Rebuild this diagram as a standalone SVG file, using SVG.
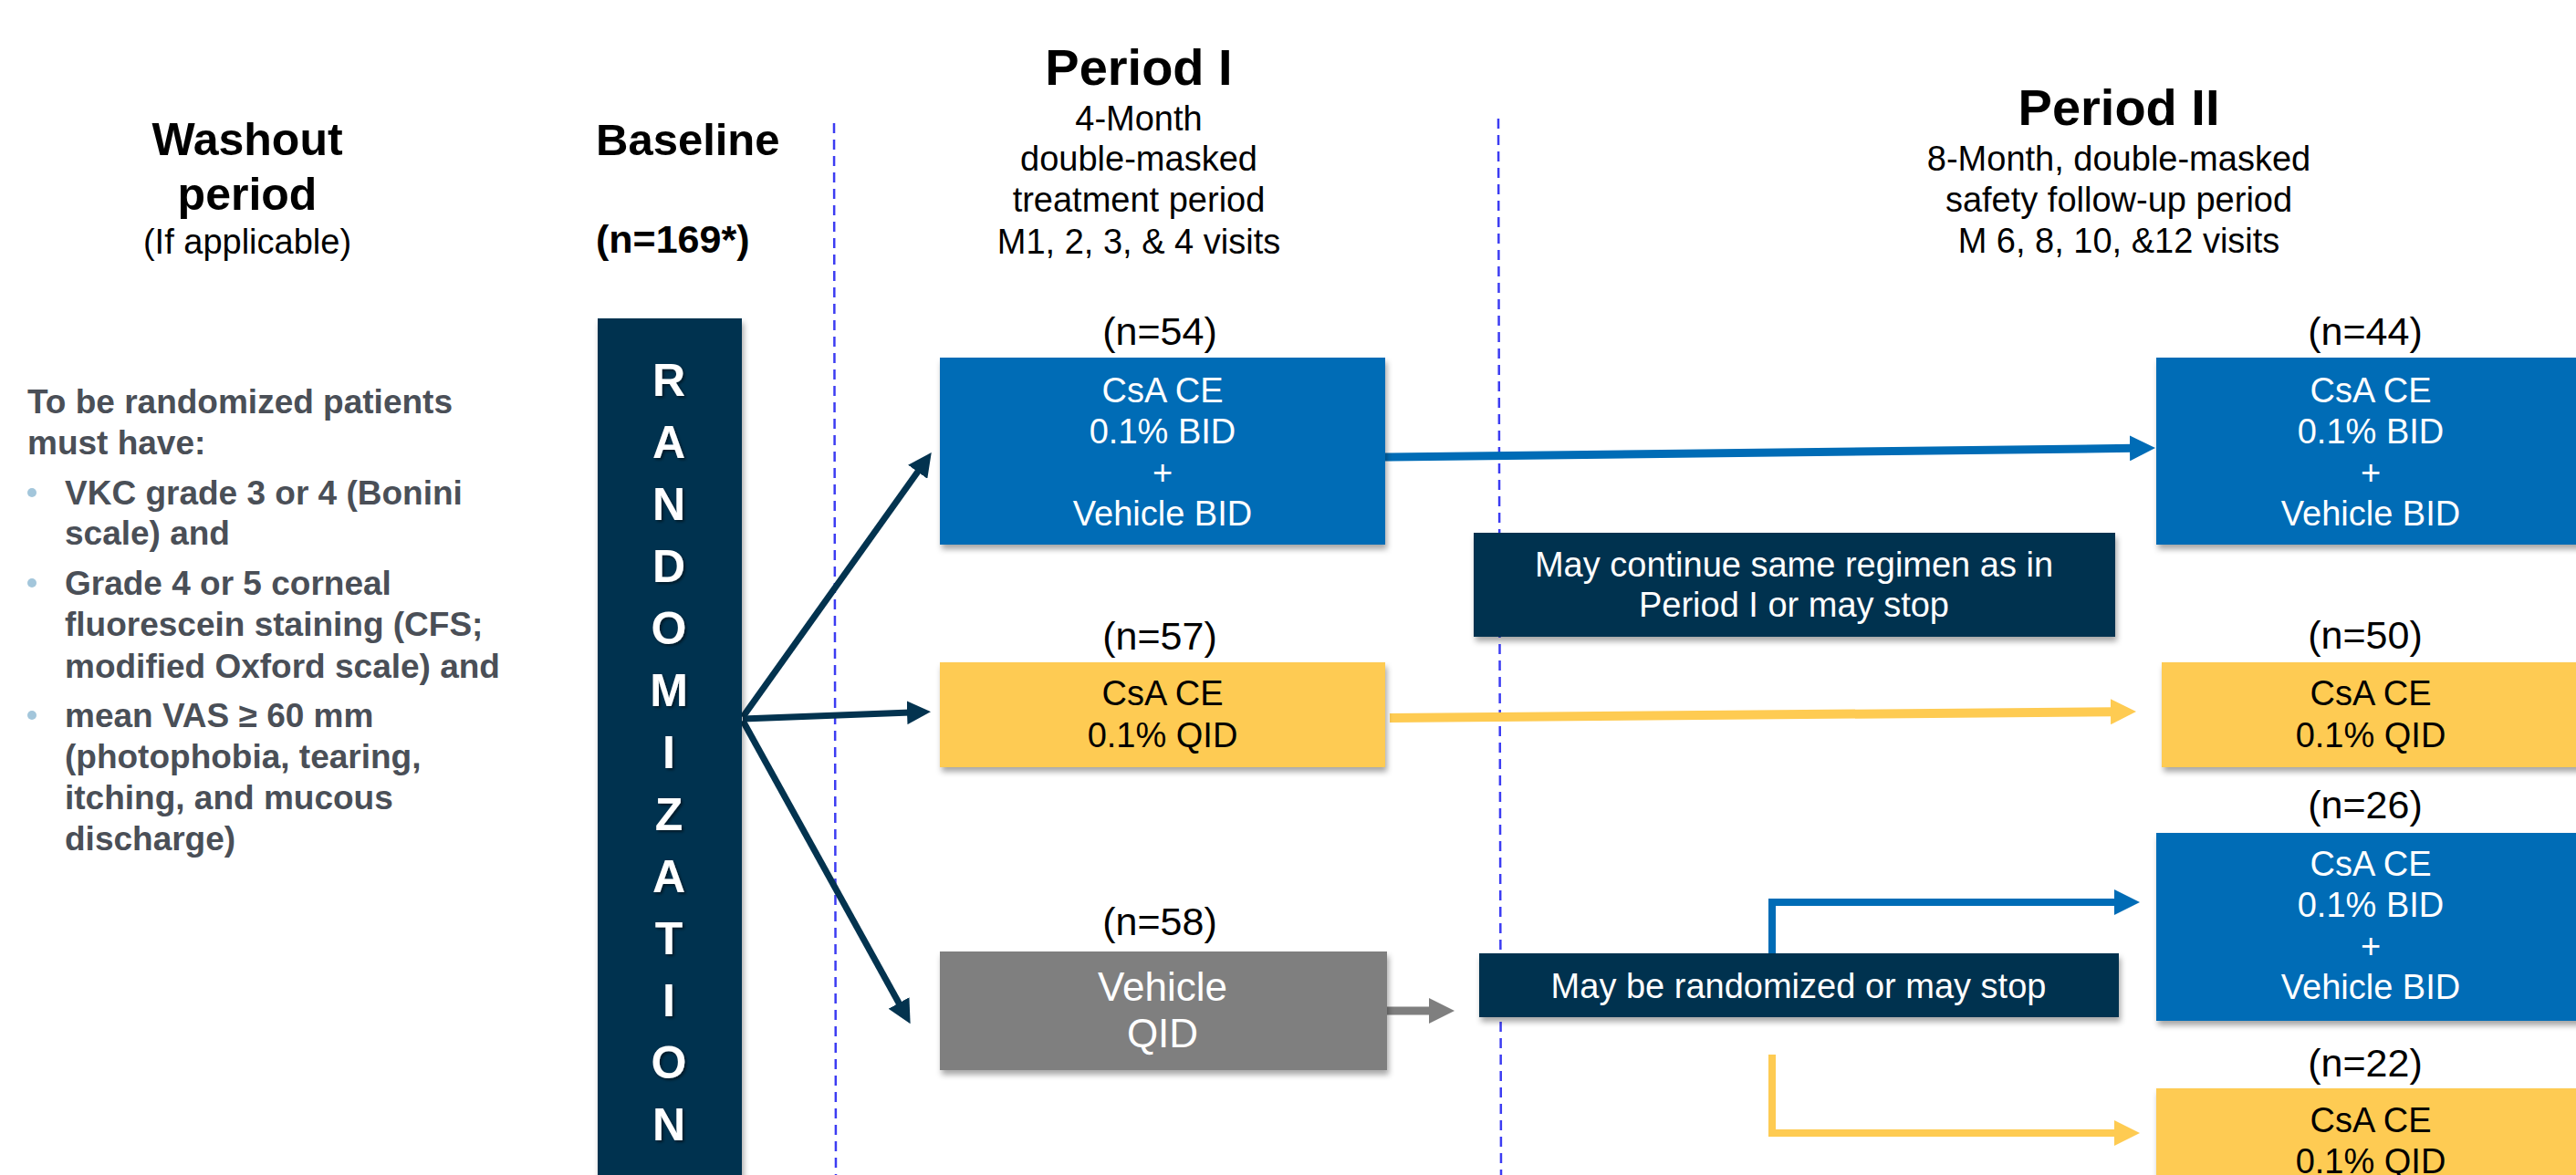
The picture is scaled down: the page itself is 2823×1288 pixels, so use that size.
<svg xmlns="http://www.w3.org/2000/svg" width="2823" height="1288" viewBox="0 0 2823 1288">
<style>
text{font-family:"Liberation Sans",Arial,sans-serif}
.h{font-weight:bold;font-size:50px;fill:#000}
.sub{font-size:38px;fill:#000}
.c{text-anchor:middle}
.n{font-size:43px;fill:#000;text-anchor:middle}
.bt{font-size:38px;text-anchor:middle}
.w{fill:#fff}
.k{fill:#000}
.crit{font-weight:bold;font-size:37px;fill:#4a4f57}
.rl{font-weight:bold;font-size:50px;fill:#fff;text-anchor:middle}
.navy{fill:#03334f}
.blue{fill:#006cb6}
.yel{fill:#fecb52}
.grey{fill:#7f7f7f}
.dash{stroke:#3c3cf2;stroke-width:2.5;stroke-dasharray:11 7;fill:none}
.cn{fill:none;stroke-linejoin:miter}
</style>
<defs>
<filter id="sh" x="-5%" y="-10%" width="115%" height="130%">
<feDropShadow dx="2" dy="5" stdDeviation="3" flood-color="#000" flood-opacity="0.35"/>
</filter>
<filter id="ts" x="-20%" y="-20%" width="150%" height="150%">
<feDropShadow dx="2" dy="2" stdDeviation="1.5" flood-color="#000" flood-opacity="0.5"/>
</filter>
<marker id="mNavy" markerUnits="userSpaceOnUse" markerWidth="26" markerHeight="26" refX="4" refY="13" orient="auto"><path d="M0,0 L26,13 L0,26 z" fill="#03334f"/></marker>
<marker id="mBlue" markerUnits="userSpaceOnUse" markerWidth="28" markerHeight="28" refX="4" refY="14" orient="auto"><path d="M0,0 L28,14 L0,28 z" fill="#006cb6"/></marker>
<marker id="mYel" markerUnits="userSpaceOnUse" markerWidth="28" markerHeight="28" refX="4" refY="14" orient="auto"><path d="M0,0 L28,14 L0,28 z" fill="#fecb52"/></marker>
<marker id="mGrey" markerUnits="userSpaceOnUse" markerWidth="28" markerHeight="28" refX="4" refY="14" orient="auto"><path d="M0,0 L28,14 L0,28 z" fill="#7f7f7f"/></marker>
</defs>
<rect width="2823" height="1288" fill="#fff"/>

<g id="dividers">
<line class="dash" x1="914" y1="135" x2="916" y2="1288"/>
<line class="dash" x1="1642" y1="130" x2="1645" y2="1288"/>
</g>

<g id="headings">
<text class="h c" x="271" y="170">Washout</text>
<text class="h c" x="271" y="230">period</text>
<text class="sub c" x="271" y="278">(If applicable)</text>
<text class="h" x="653" y="170" style="font-size:49px">Baseline</text>
<text class="h" x="653" y="277" style="font-size:43px">(n=169*)</text>
<text class="h c" x="1248" y="93" style="font-size:56px">Period I</text>
<text class="sub c" x="1248" y="143">4-Month</text>
<text class="sub c" x="1248" y="187">double-masked</text>
<text class="sub c" x="1248" y="232">treatment period</text>
<text class="sub c" x="1248" y="278">M1, 2, 3, &amp; 4 visits</text>
<text class="h c" x="2322" y="137" style="font-size:56px">Period II</text>
<text class="sub c" x="2322" y="187">8-Month, double-masked</text>
<text class="sub c" x="2322" y="232">safety follow-up period</text>
<text class="sub c" x="2322" y="277">M 6, 8, 10, &amp;12 visits</text>
</g>

<g id="criteria">
<text class="crit" x="30" y="453">To be randomized patients</text>
<text class="crit" x="30" y="498">must have:</text>
<circle cx="35" cy="540" r="5" fill="#a3c6db"/>
<text class="crit" x="71" y="553">VKC grade 3 or 4 (Bonini</text>
<text class="crit" x="71" y="597">scale) and</text>
<circle cx="35" cy="639" r="5" fill="#a3c6db"/>
<text class="crit" x="71" y="652">Grade 4 or 5 corneal</text>
<text class="crit" x="71" y="697">fluorescein staining (CFS;</text>
<text class="crit" x="71" y="743">modified Oxford scale) and</text>
<circle cx="35" cy="784" r="5" fill="#a3c6db"/>
<text class="crit" x="71" y="797">mean VAS ≥ 60 mm</text>
<text class="crit" x="71" y="842">(photophobia, tearing,</text>
<text class="crit" x="71" y="887">itching, and mucous</text>
<text class="crit" x="71" y="932">discharge)</text>
</g>

<g id="connectors">
<path class="cn" d="M814,786 L1008,514" stroke="#03334f" stroke-width="7" marker-end="url(#mNavy)"/>
<path class="cn" d="M814,788 L998,781" stroke="#03334f" stroke-width="7" marker-end="url(#mNavy)"/>
<path class="cn" d="M814,790 L987,1103" stroke="#03334f" stroke-width="7" marker-end="url(#mNavy)"/>
<path class="cn" d="M1518,501 L2338,491.3" stroke="#006cb6" stroke-width="9" marker-end="url(#mBlue)"/>
<path class="cn" d="M1523,787 L2317,780.2" stroke="#fecb52" stroke-width="10" marker-end="url(#mYel)"/>
<path class="cn" d="M1520,1108 L1570,1108" stroke="#7f7f7f" stroke-width="9" marker-end="url(#mGrey)"/>
<path class="cn" d="M1942,1045 V989 H2321" stroke="#006cb6" stroke-width="8" marker-end="url(#mBlue)"/>
<path class="cn" d="M1942,1156 V1242 H2321" stroke="#fecb52" stroke-width="8" marker-end="url(#mYel)"/>
</g>

<g id="randomization">
<rect class="navy" x="655" y="349" width="158" height="950" filter="url(#sh)"/>
<g filter="url(#ts)">
<text class="rl" x="733" y="434">R</text>
<text class="rl" x="733" y="502">A</text>
<text class="rl" x="733" y="570">N</text>
<text class="rl" x="733" y="638">D</text>
<text class="rl" x="733" y="706">O</text>
<text class="rl" x="733" y="774">M</text>
<text class="rl" x="733" y="842">I</text>
<text class="rl" x="733" y="910">Z</text>
<text class="rl" x="733" y="978">A</text>
<text class="rl" x="733" y="1046">T</text>
<text class="rl" x="733" y="1114">I</text>
<text class="rl" x="733" y="1182">O</text>
<text class="rl" x="733" y="1250">N</text>
</g>
</g>

<g id="p1-bid">
<text class="n" x="1271" y="378">(n=54)</text>
<rect class="blue" x="1030" y="392" width="488" height="205" filter="url(#sh)"/>
<text class="bt w" x="1274" y="441">CsA CE</text>
<text class="bt w" x="1274" y="486">0.1% BID</text>
<text class="bt w" x="1274" y="531">+</text>
<text class="bt w" x="1274" y="576">Vehicle BID</text>
</g>

<g id="p1-qid">
<text class="n" x="1271" y="712">(n=57)</text>
<rect class="yel" x="1030" y="726" width="488" height="115" filter="url(#sh)"/>
<text class="bt k" x="1274" y="773">CsA CE</text>
<text class="bt k" x="1274" y="819">0.1% QID</text>
</g>

<g id="p1-vehicle">
<text class="n" x="1271" y="1025">(n=58)</text>
<rect class="grey" x="1030" y="1043" width="490" height="130" filter="url(#sh)"/>
<text class="bt w" x="1274" y="1097" style="font-size:44px">Vehicle</text>
<text class="bt w" x="1274" y="1148" style="font-size:44px">QID</text>
</g>

<g id="continue">
<rect class="navy" x="1615" y="584" width="703" height="114" filter="url(#sh)"/>
<text class="bt w" x="1966" y="632">May continue same regimen as in</text>
<text class="bt w" x="1966" y="676">Period I or may stop</text>
</g>

<g id="rerandom">
<rect class="navy" x="1621" y="1045" width="701" height="70" filter="url(#sh)"/>
<text class="bt w" x="1971" y="1094">May be randomized or may stop</text>
</g>

<g id="p2-bid">
<text class="n" x="2592" y="378">(n=44)</text>
<rect class="blue" x="2363" y="392" width="480" height="205" filter="url(#sh)"/>
<text class="bt w" x="2598" y="441">CsA CE</text>
<text class="bt w" x="2598" y="486">0.1% BID</text>
<text class="bt w" x="2598" y="531">+</text>
<text class="bt w" x="2598" y="576">Vehicle BID</text>
</g>

<g id="p2-qid">
<text class="n" x="2592" y="711">(n=50)</text>
<rect class="yel" x="2369" y="726" width="474" height="115" filter="url(#sh)"/>
<text class="bt k" x="2598" y="773">CsA CE</text>
<text class="bt k" x="2598" y="819">0.1% QID</text>
</g>

<g id="p2-rand-bid">
<text class="n" x="2592" y="897">(n=26)</text>
<rect class="blue" x="2363" y="913" width="480" height="206" filter="url(#sh)"/>
<text class="bt w" x="2598" y="960">CsA CE</text>
<text class="bt w" x="2598" y="1005">0.1% BID</text>
<text class="bt w" x="2598" y="1050">+</text>
<text class="bt w" x="2598" y="1095">Vehicle BID</text>
</g>

<g id="p2-rand-qid">
<text class="n" x="2592" y="1180">(n=22)</text>
<rect class="yel" x="2363" y="1193" width="480" height="110" filter="url(#sh)"/>
<text class="bt k" x="2598" y="1241">CsA CE</text>
<text class="bt k" x="2598" y="1286">0.1% QID</text>
</g>
</svg>
